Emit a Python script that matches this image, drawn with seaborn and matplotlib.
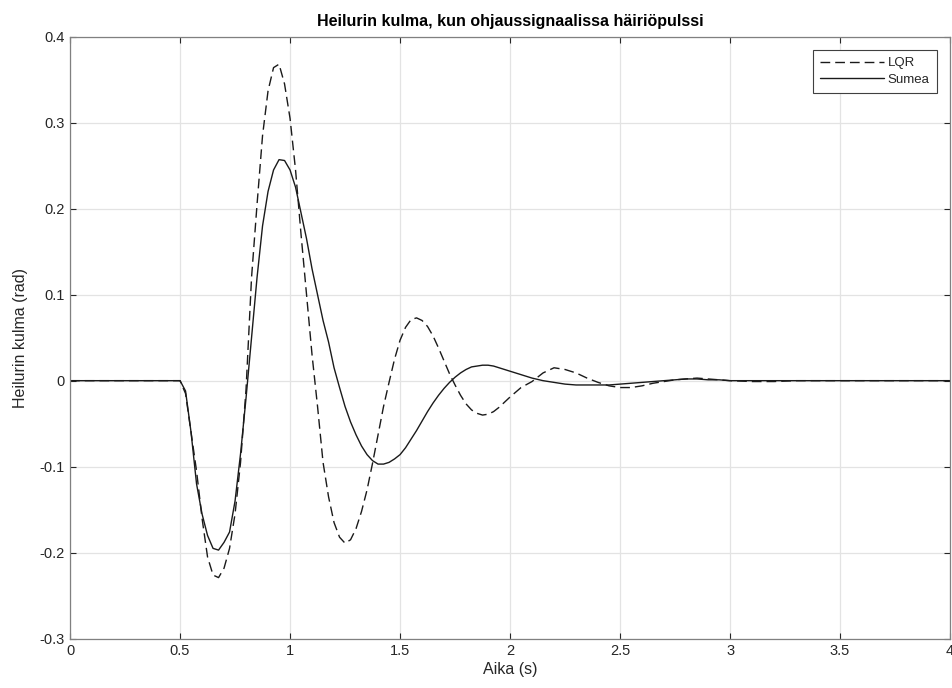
import numpy as np
import pandas as pd
import matplotlib
matplotlib.use("Agg")
import matplotlib.pyplot as plt
import seaborn as sns

# Time axis (s) and the two responses
time_s = [0.0, 0.5, 0.525, 0.55, 0.575, 0.6, 0.625, 0.65, 0.675, 0.7, 0.725,
          0.75, 0.775, 0.8, 0.825, 0.85, 0.875, 0.9, 0.925, 0.95, 0.975,
          1.0, 1.025, 1.05, 1.075, 1.1, 1.125, 1.15, 1.175, 1.2, 1.225,
          1.25, 1.275, 1.3, 1.325, 1.35, 1.375, 1.4, 1.425, 1.45, 1.475,
          1.5, 1.525, 1.55, 1.575, 1.6, 1.625, 1.65, 1.675, 1.7, 1.725,
          1.75, 1.775, 1.8, 1.825, 1.85, 1.875, 1.9, 1.925, 1.95, 1.975,
          2.0, 2.05, 2.1, 2.15, 2.2, 2.25, 2.3, 2.35, 2.4, 2.45,
          2.5, 2.55, 2.6, 2.65, 2.7, 2.75, 2.8, 2.85, 2.9, 2.95,
          3.0, 3.1, 3.2, 3.3, 3.4, 3.5, 3.6, 3.7, 3.8, 3.9, 4.0]

lqr_angle = [0.0, 0.0, -0.015, -0.06, -0.105, -0.16, -0.205, -0.226, -0.229, -0.218, -0.195,
             -0.155, -0.095, -0.01, 0.12, 0.205, 0.285, 0.337, 0.364, 0.368, 0.345,
             0.305, 0.245, 0.17, 0.1, 0.03, -0.03, -0.095, -0.135, -0.165, -0.182,
             -0.189, -0.185, -0.172, -0.152, -0.127, -0.096, -0.063, -0.03, -0.002, 0.025,
             0.047, 0.062, 0.071, 0.073, 0.07, 0.063, 0.052, 0.038, 0.023, 0.008,
             -0.005, -0.017, -0.027, -0.034, -0.038, -0.04, -0.039, -0.036, -0.031, -0.025,
             -0.019, -0.008, -0.001, 0.009, 0.015, 0.013, 0.009, 0.003, -0.002, -0.006,
             -0.008, -0.008, -0.006, -0.003, -0.001, 0.001, 0.002, 0.003, 0.002, 0.001,
             0.0, -0.001, -0.001, 0.0, 0.0, 0.0, 0.0, 0.0, 0.0, 0.0, 0.0]

fuzzy_angle = [0.0, 0.0, -0.012, -0.06, -0.12, -0.155, -0.18, -0.195, -0.197, -0.188, -0.176,
               -0.14, -0.085, -0.02, 0.05, 0.12, 0.18, 0.22, 0.245, 0.257, 0.256,
               0.245, 0.225, 0.195, 0.165, 0.13, 0.1, 0.07, 0.045, 0.015, -0.008,
               -0.03, -0.048, -0.063, -0.076, -0.086, -0.093, -0.097, -0.097, -0.095, -0.091,
               -0.086, -0.078, -0.068, -0.058, -0.047, -0.036, -0.026, -0.017, -0.009, -0.002,
               0.004, 0.009, 0.013, 0.016, 0.017, 0.018, 0.018, 0.017, 0.015, 0.013,
               0.011, 0.007, 0.003, 0.0, -0.002, -0.004, -0.005, -0.005, -0.005, -0.005,
               -0.004, -0.003, -0.002, -0.001, 0.0, 0.001, 0.002, 0.002, 0.001, 0.001,
               0.0, 0.0, 0.0, 0.0, 0.0, 0.0, 0.0, 0.0, 0.0, 0.0, 0.0]

x_ticks = [0, 0.5, 1, 1.5, 2, 2.5, 3, 3.5, 4]
x_tick_labels = ["0", "0.5", "1", "1.5", "2", "2.5", "3", "3.5", "4"]
y_ticks = [-0.3, -0.2, -0.1, 0, 0.1, 0.2, 0.3, 0.4]
y_tick_labels = ["-0.3", "-0.2", "-0.1", "0", "0.1", "0.2", "0.3", "0.4"]

df = pd.DataFrame({"t": time_s, "LQR": lqr_angle, "Sumea": fuzzy_angle})

sns.set_theme(style="whitegrid")
plt.rcParams["font.family"] = ["Liberation Sans", "DejaVu Sans"]

fig = plt.figure(figsize=(9.53, 6.88), dpi=100)
ax = fig.add_axes([0.0735, 0.0717, 0.9234, 0.875])

sns.lineplot(data=df, x="t", y="LQR", ax=ax, color="#1a1a1a", linewidth=1.0,
             label="LQR")
ax.lines[-1].set_dashes((7, 3.6))
sns.lineplot(data=df, x="t", y="Sumea", ax=ax, color="#1a1a1a", linewidth=1.0,
             label="Sumea")

ax.set_xlim(0, 4)
ax.set_ylim(-0.3, 0.4)
ax.set_xticks(x_ticks)
ax.set_xticklabels(x_tick_labels)
ax.set_yticks(y_ticks)
ax.set_yticklabels(y_tick_labels)

ax.grid(True, color="#e3e3e3", linewidth=0.9)
for side in ["top", "bottom", "left", "right"]:
    ax.spines[side].set_visible(True)
    ax.spines[side].set_color("#808080")
    ax.spines[side].set_linewidth(0.9)
ax.tick_params(axis="both", direction="in", length=4, width=0.8, color="#262626",
               labelsize=10.5, labelcolor="#262626", pad=4,
               top=True, right=True, bottom=True, left=True)

ax.set_title("Heilurin kulma, kun ohjaussignaalissa häiriöpulssi",
             fontsize=11.5, fontweight="bold", color="black", pad=8)
ax.set_xlabel("Aika (s)", fontsize=11.5, color="#262626", labelpad=3)
ax.set_ylabel("Heilurin kulma (rad)", fontsize=11.5, color="#262626", labelpad=8)

leg = ax.legend(loc="upper right", fontsize=9.5, frameon=True, fancybox=False,
                borderaxespad=1.0, handlelength=4.8, handletextpad=0.3,
                borderpad=0.55, labelspacing=0.3)
leg.get_frame().set_edgecolor("#404040")
leg.get_frame().set_linewidth(0.8)
leg.get_frame().set_alpha(1)

fig.savefig("out.png", dpi=100)
